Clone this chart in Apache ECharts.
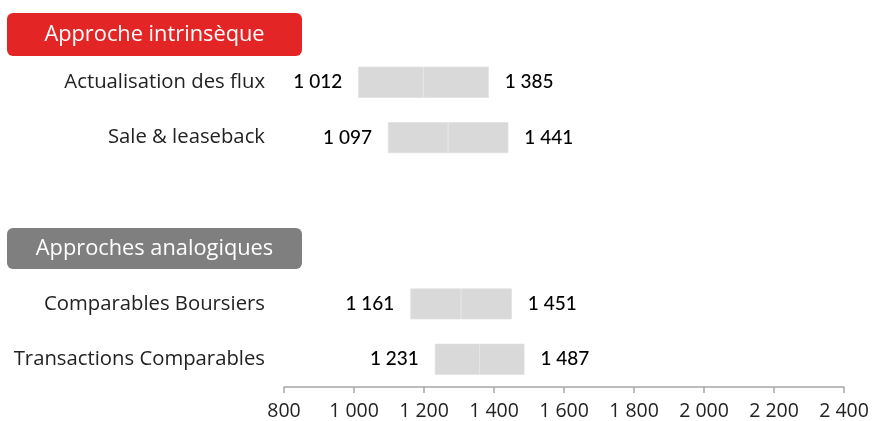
<!DOCTYPE html>
<html>
<head>
<meta charset="utf-8">
<style>
  html, body { margin: 0; padding: 0; background: #ffffff; }
  #chart { width: 872px; height: 421px; }
</style>
<script src="https://cdn.jsdelivr.net/npm/echarts@6/dist/echarts.min.js"></script>
</head>
<body>
<div id="chart"></div>
<script>
// Valuation ranges per method (low / high), in the axis units
const categories = ['Actualisation des flux', 'Sale & leaseback', ' ', '  ', 'Comparables Boursiers', 'Transactions Comparables'];
const lowValues  = [1012, 1097, null, null, 1161, 1231];
const highValues = [1385, 1441, null, null, 1451, 1487];
const axisTicks  = [800, 1000, 1200, 1400, 1600, 1800, 2000, 2200, 2400];
const groupTitles = ['Approche intrinsèque', 'Approches analogiques'];

const TEXT_FONT = '"Open Sans", "Noto Sans", sans-serif';
const NUM_FONT = 'Lato, "Noto Sans", sans-serif';
const BAR = '#d9d9d9';

function fmt(v) {
  return String(v).replace(/\B(?=(\d{3})+(?!\d))/g, ' ');
}

// Stacked pieces: invisible offset, lower half, upper half of each range
const baseData  = lowValues.map(v => v == null ? null : v);
const lowerHalf = lowValues.map((v, i) => v == null ? null : (highValues[i] - v) / 2);
const upperHalf = lowValues.map((v, i) => v == null ? null : (highValues[i] - v) / 2);

const chart = echarts.init(document.getElementById('chart'), null, { renderer: 'canvas' });

chart.setOption({
  animation: false,
  grid: { left: 284, right: 28, top: 54.5, bottom: 34, containLabel: false },
  xAxis: {
    type: 'value',
    min: axisTicks[0],
    max: axisTicks[axisTicks.length - 1],
    interval: 200,
    splitLine: { show: false },
    axisLine: { show: true, lineStyle: { color: '#a6a6a6', width: 1.5 } },
    axisTick: { show: true, length: 6, lineStyle: { color: '#a6a6a6', width: 1.5 } },
    axisLabel: {
      color: '#222222', fontSize: 19.5, fontFamily: TEXT_FONT, margin: 14,
      formatter: v => fmt(v)
    }
  },
  yAxis: {
    type: 'category',
    inverse: true,
    data: categories,
    axisLine: { show: false },
    axisTick: { show: false },
    splitLine: { show: false },
    axisLabel: { color: '#222222', fontSize: 20.3, fontFamily: TEXT_FONT, margin: 19 }
  },
  series: [
    {
      name: 'base', type: 'bar', stack: 'range', barWidth: 31,
      itemStyle: { color: 'transparent' },
      data: baseData, silent: true
    },
    {
      name: 'lower', type: 'bar', stack: 'range', barWidth: 31,
      itemStyle: { color: BAR, borderColor: '#dfdfdf', borderWidth: 0.6 },
      label: {
        show: true, position: 'left', distance: 16,
        color: '#000000', fontSize: 19, fontFamily: NUM_FONT, fontWeight: 500,
        formatter: p => fmt(lowValues[p.dataIndex])
      },
      data: lowerHalf
    },
    {
      name: 'upper', type: 'bar', stack: 'range', barWidth: 31,
      itemStyle: { color: BAR, borderColor: '#dfdfdf', borderWidth: 0.6 },
      label: {
        show: true, position: 'right', distance: 16,
        color: '#000000', fontSize: 19, fontFamily: NUM_FONT, fontWeight: 500,
        formatter: p => fmt(highValues[p.dataIndex])
      },
      data: upperHalf
    }
  ],
  graphic: [
    {
      type: 'group', left: 7, top: 13,
      children: [
        { type: 'rect', shape: { x: 0, y: 0, width: 295, height: 43, r: 6 }, style: { fill: '#e32526' } },
        { type: 'text', x: 147.5, y: 22, style: { text: groupTitles[0], fill: '#ffffff', fontSize: 21.8, fontFamily: TEXT_FONT, align: 'center', verticalAlign: 'middle' } }
      ]
    },
    {
      type: 'group', left: 7, top: 228,
      children: [
        { type: 'rect', shape: { x: 0, y: 0, width: 295, height: 41, r: 6 }, style: { fill: '#7f7f7f' } },
        { type: 'text', x: 147.5, y: 21, style: { text: groupTitles[1], fill: '#ffffff', fontSize: 21.8, fontFamily: TEXT_FONT, align: 'center', verticalAlign: 'middle' } }
      ]
    }
  ]
});
</script>
</body>
</html>
